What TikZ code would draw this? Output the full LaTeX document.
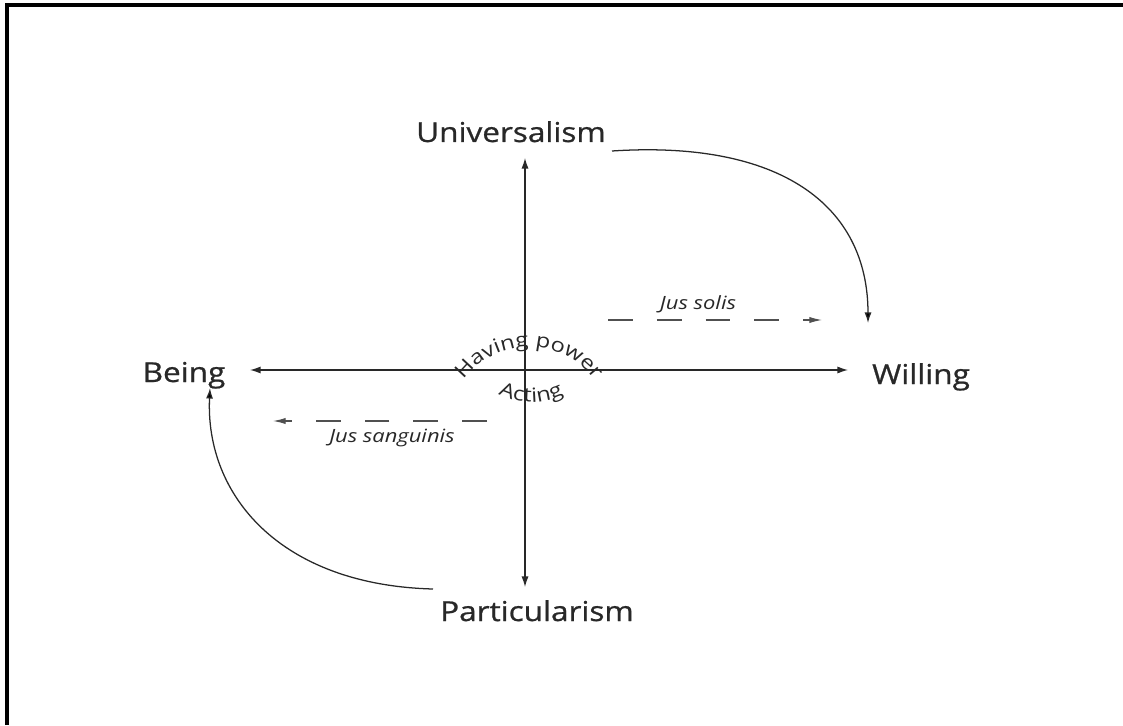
\documentclass[tikz,border=0pt]{standalone}
\usepackage{fontspec}
\setmainfont{Open Sans}[FakeStretch=1.2]
\newfontfamily\polefont{Open Sans}[FakeStretch=1.15, FakeBold=0.8]
\usetikzlibrary{arrows.meta,decorations.text}
\definecolor{CitInk}{RGB}{40,40,40}
\definecolor{CitGray}{RGB}{80,80,80}
\tikzset{
  cit/pole/.style={
    text=CitInk,
    inner sep=0pt,
    anchor=base,
    font=\polefont\fontsize{19.5}{21}\selectfont
  },
  cit/note/.style={
    text=CitInk,
    inner sep=0pt,
    anchor=base,
    font=\itshape\fontsize{13}{14}\selectfont
  },
  cit/axis/.style={{Latex[length=7.5pt,width=5pt]}-{Latex[length=7.5pt,width=5pt]}, line width=0.9pt, draw=CitInk},
  cit/dash/.style={-{Latex[length=9pt,width=4.5pt]}, line width=0.9pt, draw=CitGray, dash pattern=on 17.7pt off 17pt},
  cit/curve/.style={-{Latex[length=7.5pt,width=5pt]}, line width=0.9pt, draw=CitInk},
  cit/frame/.style={line width=2.2pt, draw=black},
  cit/arc/.style={decorate, decoration={text along path, text align=center,
    text format delimiters={|}{|}, text color=CitInk}}
}

\begin{document}
\begin{tikzpicture}[x=0.025cm,y=0.025cm]
  \useasboundingbox (0,0) rectangle (1123,725);
  \draw[cit/frame] (7,0) -- (7,720) -- (1123,720);

  % the four poles
  \foreach \nm/\txt/\x/\y in {
    univ/Universalism/511/583,partic/Particularism/537/104,
    being/Being/184/343,willing/Willing/921/341}
  {\node[cit/pole] (\nm) at (\x,\y) {\txt};}

  % axes
  \coordinate (O) at (525,355);
  \coordinate (upTip) at (525,567);
  \coordinate (downTip) at (525,138);
  \coordinate (leftTip) at (250,355);
  \coordinate (rightTip) at (848,355);
  \draw[cit/axis] (upTip) -- (downTip);
  \draw[cit/axis] (leftTip) -- (rightTip);

  % text round the centre
  \path[cit/arc, decoration={text={|\fontsize{14}{15}\selectfont|Having power}}]
    (529,296) ++(152:82) arc[start angle=152, end angle=28, radius=82];
  \path[cit/arc, decoration={text={|\fontsize{14}{15}\selectfont|Acting}}]
    (531,395) ++(228:72) arc[start angle=228, end angle=312, radius=72];

  % jus soli / jus sanguinis
  \coordinate (soliA) at (608,405);
  \coordinate (soliB) at (822,405);
  \coordinate (sangA) at (487,304);
  \coordinate (sangB) at (273,304);
  \draw[cit/dash] (soliA) -- (soliB);
  \draw[cit/dash] (sangA) -- (sangB);
  \node[cit/note] (solis) at (698,415) {Jus solis};
  \node[cit/note] (sanguinis) at (392,283) {Jus sanguinis};

  % shifts between the poles
  \coordinate (univEnd) at (612,574);
  \coordinate (willTop) at (868,402);
  \coordinate (partEnd) at (433,136);
  \coordinate (beingLow) at (210,337);
  \draw[cit/curve] (univEnd) .. controls (780,585) and (868,520) .. (willTop);
  \draw[cit/curve] (partEnd) .. controls (280,140) and (205,230) .. (beingLow);
\end{tikzpicture}
\end{document}
